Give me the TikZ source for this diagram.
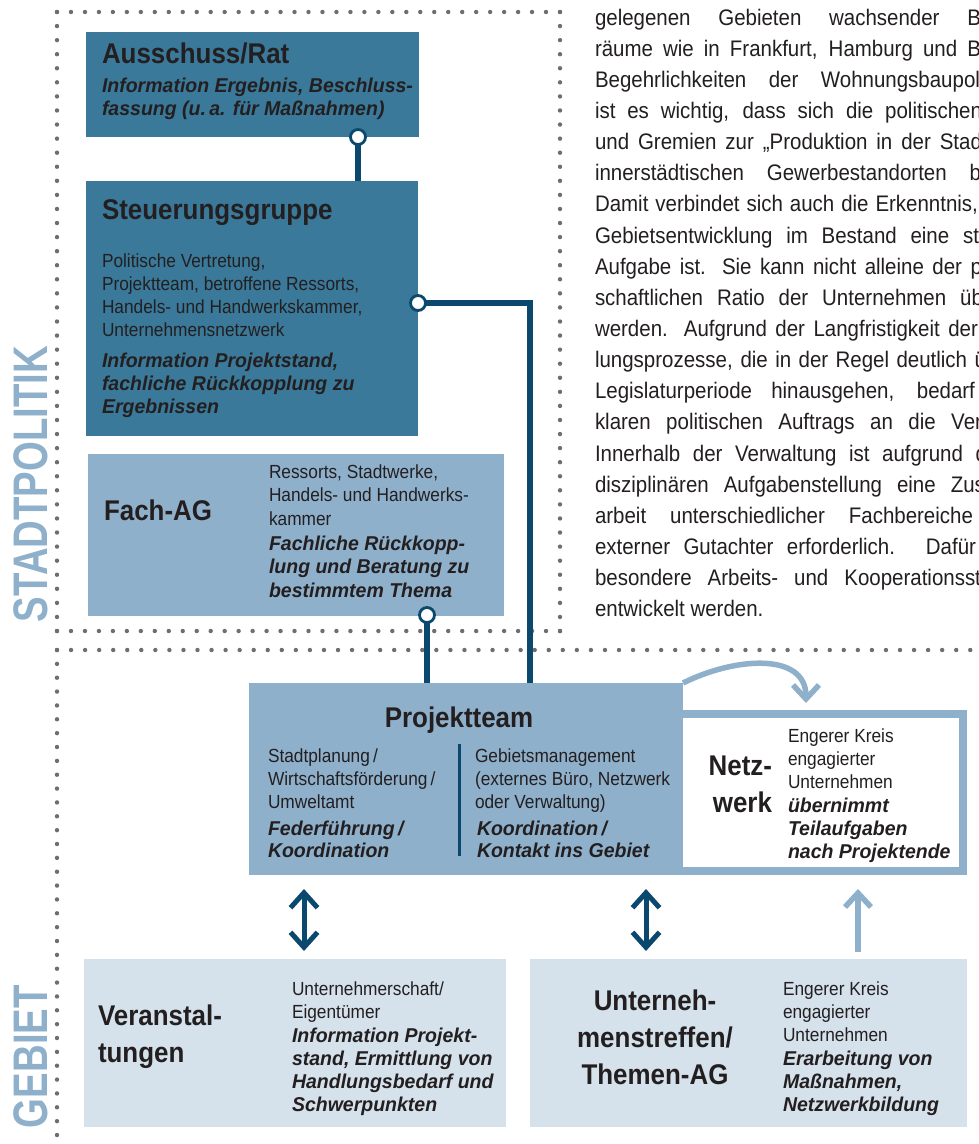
\documentclass[tikz,border=0pt]{standalone}
\usepackage{fontspec}
\setmainfont{Liberation Sans}[FakeStretch=0.91]
\newfontfamily\keyfamily{Liberation Sans}[FakeStretch=0.975]
\newfontfamily\sidefamily{Liberation Sans}[FakeStretch=0.79]
\usetikzlibrary{arrows.meta}

\definecolor{darkbox}{RGB}{58,121,153}
\definecolor{midbox}{RGB}{143,176,203}
\definecolor{lightbox}{RGB}{213,225,235}
\definecolor{linkblue}{RGB}{10,72,110}
\definecolor{dotgray}{RGB}{110,110,113}
\definecolor{ink}{RGB}{35,31,32}

\begin{document}
% multi-line nodes are placed by the baseline of their last line
\begin{tikzpicture}[x=1pt,y=-1pt,
  every node/.style={inner sep=0pt,outer sep=0pt,text=ink},
  headtxt/.style={font=\fontsize{28.5}{37}\selectfont\bfseries,anchor=base west,align=left},
  plaintxt/.style={font=\fontsize{19}{23.3}\selectfont,anchor=base west,align=left},
  keytxt/.style={font=\keyfamily\fontsize{20}{23.3}\selectfont\bfseries\itshape,anchor=base west,align=left},
  paraline/.style={font=\fontsize{22.5}{31}\selectfont,anchor=base west},
  sidelabel/.style={font=\sidefamily\fontsize{48.5}{50}\selectfont\bfseries,text=midbox,rotate=90,anchor=base west},
  panel/.style={anchor=north west,fill=#1,draw=none},
  dotmark/.style={fill=dotgray},
  conn/.style={draw=linkblue,line width=5.5pt},
  knob/.style={circle,draw=linkblue,line width=2.8pt,fill=white,minimum size=15pt},
  darrow/.style={draw=linkblue,line width=5pt,{Straight Barb[length=15pt,width=27pt]}-{Straight Barb[length=15pt,width=27pt]}},
  larrow/.style={draw=midbox,line width=5.5pt,-{Straight Barb[length=14pt,width=26pt]}}
]
\useasboundingbox (0,0) rectangle (979,1144);
\clip (0,0) rectangle (979,1144);
\fill[white] (0,0) rectangle (979,1144);

% dotted frames: Stadtpolitik (top) and Gebiet (bottom)
\foreach \i in {0,...,36} \fill[dotmark] ({57+\i*(503/36)},12) circle (2.2);
\foreach \i in {0,...,44} \fill[dotmark] (57,{12+\i*(619/44)}) circle (2.2);
\foreach \i in {0,...,44} \fill[dotmark] (560,{12+\i*(619/44)}) circle (2.2);
\foreach \i in {0,...,36} \fill[dotmark] ({57+\i*(503/36)},631) circle (2.2);
\foreach \i in {0,...,66} \fill[dotmark] ({57+\i*14.05},650) circle (2.2);
\foreach \i in {0,...,35} \fill[dotmark] (57,{650+\i*(485/35)}) circle (2.2);

% side labels
\node[sidelabel] (lblpol) at (47,622) {STADTPOLITIK};
\node[sidelabel] (lblgeb) at (47,1128) {GEBIET};

% panels
\node[panel=darkbox,minimum width=333pt,minimum height=105pt] (aus) at (86,32) {};
\node[panel=darkbox,minimum width=332pt,minimum height=255pt] (steu) at (86,181) {};
\node[panel=midbox,minimum width=416pt,minimum height=162pt] (fach) at (88,454) {};
\node[panel=midbox,minimum width=434pt,minimum height=192pt] (proj) at (249,683) {};
\node[panel=midbox,minimum width=284pt,minimum height=165pt] (netz) at (683,710) {};
\fill[white] (683,718) rectangle (959,867);
\node[panel=lightbox,minimum width=422pt,minimum height=168pt] (veran) at (84,959) {};
\node[panel=lightbox,minimum width=437pt,minimum height=168pt] (treff) at (530,959) {};

% Ausschuss/Rat
\node[headtxt] (ausT) at (102,63) {Ausschuss/Rat};
\node[keytxt] (ausK) at (102,115.3) {Information Ergebnis, Beschluss-\\fassung (u.\,a. für Maßnahmen)};

% Steuerungsgruppe
\node[headtxt] (steuT) at (102,219) {Steuerungsgruppe};
\node[plaintxt] (steuP) at (102,336.9) {Politische Vertretung,\\Projektteam, betroffene Ressorts,\\Handels- und Handwerkskammer,\\Unternehmensnetzwerk};
\node[keytxt] (steuK) at (102,413.6) {Information Projektstand,\\fachliche Rückkopplung zu\\Ergebnissen};

% Fach-AG
\node[headtxt] (fachT) at (104,520) {Fach-AG};
\node[plaintxt,font=\fontsize{19}{23.6}\selectfont] (fachP) at (269,525.2) {Ressorts, Stadtwerke,\\Handels- und Handwerks-\\kammer};
\node[keytxt,font=\keyfamily\fontsize{20}{23.6}\selectfont\bfseries\itshape] (fachK) at (269,597.2) {Fachliche Rückkopp-\\lung und Beratung zu\\bestimmtem Thema};

% Projektteam
\node[headtxt,anchor=base] (projT) at (459,727) {Projektteam};
\node[plaintxt,font=\fontsize{19}{23}\selectfont] (projP1) at (268,808) {Stadtplanung\,/\\Wirtschaftsförderung\,/\\Umweltamt};
\node[keytxt,font=\keyfamily\fontsize{20}{22}\selectfont\bfseries\itshape] (projK1) at (268,857) {Federführung\,/\\Koordination};
\node[plaintxt,font=\fontsize{19}{23}\selectfont] (projP2) at (475,808) {Gebietsmanagement\\(externes Büro, Netzwerk\\oder Verwaltung)};
\node[keytxt,font=\keyfamily\fontsize{20}{22}\selectfont\bfseries\itshape] (projK2) at (477,857) {Koordination\,/\\Kontakt ins Gebiet};
\draw[linkblue,line width=3pt] (459,744) -- (459,856);

% Netzwerk
\node[headtxt,anchor=base east,align=right] (netzT) at (772,812) {Netz-\\werk};
\node[plaintxt] (netzP) at (788,788.6) {Engerer Kreis\\engagierter\\Unternehmen};
\node[keytxt] (netzK) at (788,858.6) {übernimmt\\Teilaufgaben\\nach Projektende};

% Veranstaltungen
\node[headtxt] (veranT) at (98,1062) {Veranstal-\\tungen};
\node[plaintxt] (veranP) at (292,1018.3) {Unternehmerschaft/\\Eigentümer};
\node[keytxt] (veranK) at (292,1111.9) {Information Projekt-\\stand, Ermittlung von\\Handlungsbedarf und\\Schwerpunkten};

% Unternehmenstreffen
\node[headtxt,anchor=base,align=center] (treffT) at (655,1084) {Unterneh-\\menstreffen/\\Themen-AG};
\node[plaintxt] (treffP) at (783,1041.6) {Engerer Kreis\\engagierter\\Unternehmen};
\node[keytxt] (treffK) at (783,1111.6) {Erarbeitung von\\Maßnahmen,\\Netzwerkbildung};

% connectors with round knobs
\node[knob] (k1) at (358,137) {};
\draw[conn] (k1.south) -- (k1.south |- steu.north);
\node[knob] (k3) at (427,615) {};
\draw[conn] (k3.south) -- (k3.south |- proj.north);
\node[knob] (k2) at (418,303) {};
\coordinate (j2) at (530,683);
\draw[conn] (k2.east) -| (j2);

% two-way arrows between Projektteam and the Gebiet panels
\coordinate (a1t) at (304,889);
\coordinate (a1b) at (304,951);
\draw[darrow] (a1b) -- (a1t);
\coordinate (a2t) at (646,889);
\coordinate (a2b) at (646,951);
\draw[darrow] (a2b) -- (a2t);

% light arrows towards the Netzwerk
\coordinate (a3t) at (858,889);
\coordinate (a3b) at (858,952);
\draw[larrow] (a3b) -- (a3t);
\coordinate (bendend) at (806,703);
\draw[larrow] (proj.north east) .. controls (735,657) and (806,652) .. (bendend);

% running text
\node[paraline] (t1) at (595,25) {\makebox[386pt][s]{gelegenen Gebieten wachsender B}};
\node[paraline] (t2) at (595,56.15) {\makebox[386pt][s]{räume wie in Frankfurt, Hamburg und B}};
\node[paraline] (t3) at (595,87.3) {\makebox[385pt][s]{Begehrlichkeiten der Wohnungsbaupol}};
\node[paraline] (t4) at (595,118.45) {\makebox[387pt][s]{ist es wichtig, dass sich die politischen}};
\node[paraline] (t5) at (595,149.6) {\makebox[387pt][s]{und Gremien zur „Produktion in der Stad}};
\node[paraline] (t6) at (595,180.75) {\makebox[386pt][s]{innerstädtischen Gewerbestandorten b}};
\node[paraline] (t7) at (595,211.9) {\makebox[383pt][s]{Damit verbindet sich auch die Erkenntnis,}};
\node[paraline] (t8) at (595,243.05) {\makebox[384pt][s]{Gebietsentwicklung im Bestand eine st}};
\node[paraline] (t9) at (595,274.2) {\makebox[387pt][s]{Aufgabe ist. Sie kann nicht alleine der p}};
\node[paraline] (t10) at (595,305.35) {\makebox[388pt][s]{schaftlichen Ratio der Unternehmen üb}};
\node[paraline] (t11) at (595,336.5) {\makebox[383pt][s]{werden. Aufgrund der Langfristigkeit der}};
\node[paraline] (t12) at (595,367.65) {\makebox[391pt][s]{lungsprozesse, die in der Regel deutlich ü}};
\node[paraline] (t13) at (595,398.8) {\makebox[380pt][s]{Legislaturperiode hinausgehen, bedarf}};
\node[paraline] (t14) at (595,429.95) {\makebox[387pt][s]{klaren politischen Auftrags an die Ver}};
\node[paraline] (t15) at (595,461.1) {\makebox[392pt][s]{Innerhalb der Verwaltung ist aufgrund d}};
\node[paraline] (t16) at (595,492.25) {\makebox[390pt][s]{disziplinären Aufgabenstellung eine Zus}};
\node[paraline] (t17) at (595,523.4) {\makebox[378pt][s]{arbeit unterschiedlicher Fachbereiche}};
\node[paraline] (t18) at (595,554.55) {\makebox[381pt][s]{externer Gutachter erforderlich. Dafür}};
\node[paraline] (t19) at (595,585.7) {\makebox[386pt][s]{besondere Arbeits- und Kooperationsst}};
\node[paraline] (t20) at (595,616.85) {entwickelt werden.};
\end{tikzpicture}
\end{document}
